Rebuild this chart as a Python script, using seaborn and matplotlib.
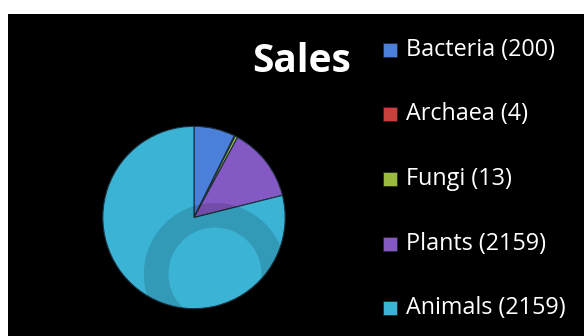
import matplotlib
matplotlib.use("Agg")
import matplotlib.pyplot as plt
from matplotlib.patches import Rectangle, Wedge, Circle
import seaborn as sns

# ---- data ----
categories = ["Bacteria", "Archaea", "Fungi", "Plants", "Animals"]
legend_counts = ["200", "4", "13", "2159", "2159"]
slice_values = [200, 4, 13, 360, 2159]   # slice sizes
colors = ["#4a80d9", "#c8403c", "#9bbb40", "#8559c4", "#3bb3d4"]
title = "Sales"

sns.set_theme(style="white")
plt.rcParams["font.family"] = ["Open Sans", "DejaVu Sans"]
palette = sns.color_palette(colors)

W, H = 584, 336
fig = plt.figure(figsize=(W / 100, H / 100), dpi=100, facecolor="white")

# black panel
fig.patches.append(Rectangle((8 / W, 0), (W - 8) / W, (H - 14) / H,
                             transform=fig.transFigure, facecolor="black",
                             edgecolor="none", zorder=-5))

# pie axes
cx, cy, r = 194, 217.5, 93
ax = fig.add_axes([(cx - r) / W, (H - cy - r) / H, 2 * r / W, 2 * r / H])
ax.set_zorder(2)
ax.set_facecolor("none")
wedges, _ = ax.pie(slice_values, colors=palette, startangle=90, counterclock=False,
                   radius=1, wedgeprops=dict(edgecolor="#1c2f3c", linewidth=0.8))
ax.set_xlim(-1.02, 1.02)
ax.set_ylim(-1.02, 1.02)
ax.axis("off")

# faint watermark ring inside the pie
clip = Circle((0, 0), 1.0, transform=ax.transData)
ring = Wedge((0.23, -0.62), 0.78, -35, 290, width=0.27, facecolor="black",
             alpha=0.14, edgecolor="none")
ax.add_patch(ring)
ring.set_clip_path(clip)

# title
fig.text(301.5 / W, 1 - 62 / H, title, color="white", fontsize=28,
         fontweight="bold", ha="center", va="center", zorder=4)

# legend
y0, dy = 50, 64.5
for i, (cat, cnt) in enumerate(zip(categories, legend_counts)):
    yc = y0 + i * dy
    fig.patches.append(Rectangle((383 / W, 1 - (yc + 7) / H), 14 / W, 14 / H,
                                 transform=fig.transFigure, facecolor=palette[i],
                                 edgecolor="#222222", linewidth=0.5, zorder=3))
    fig.text(406 / W, 1 - yc / H, f"{cat} ({cnt})", color="white", fontsize=16.8,
             ha="left", va="center", zorder=4)

fig.savefig("out.png", dpi=100, facecolor="white")
